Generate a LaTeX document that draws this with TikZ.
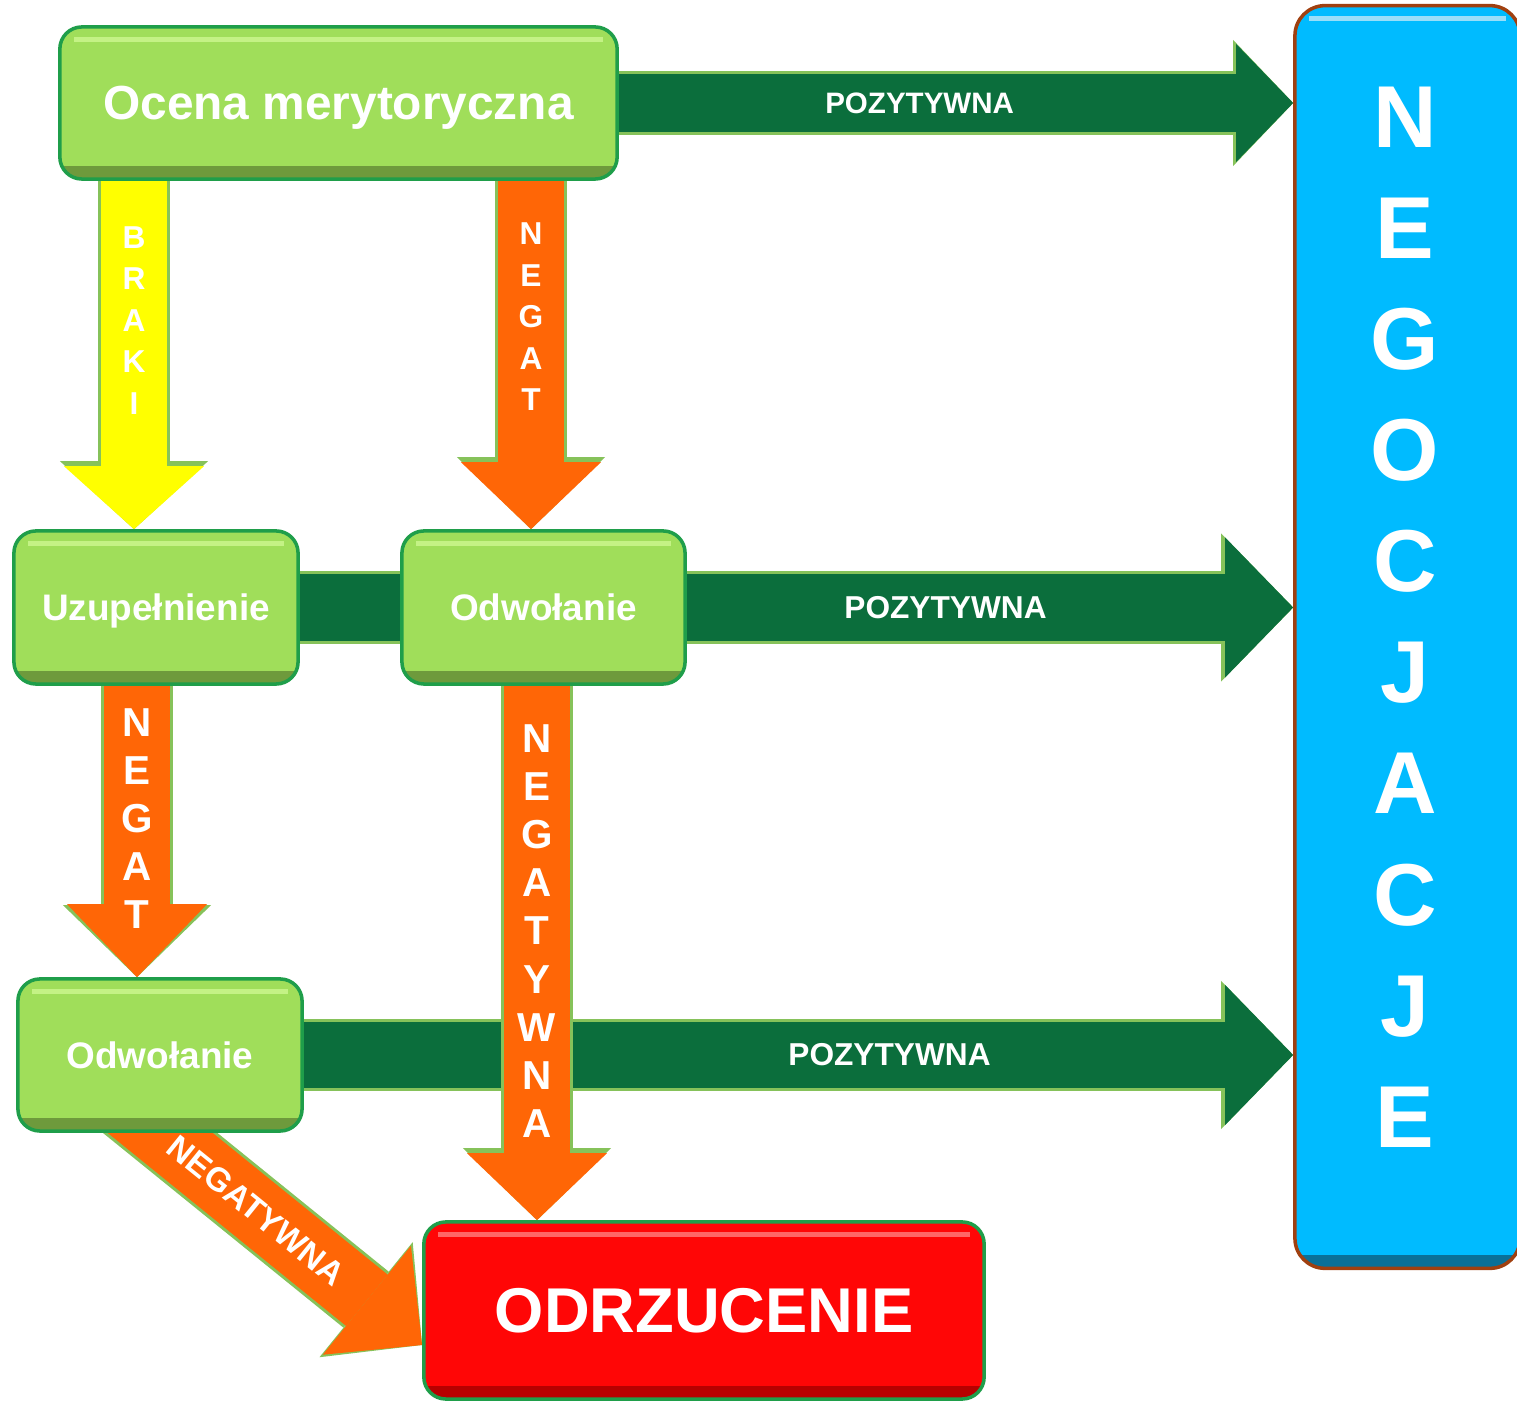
\documentclass[tikz,border=0pt]{standalone}
\usepackage{fontspec}
\setmainfont{Liberation Sans}
\usetikzlibrary{arrows.meta,calc}
\pgfdeclarelayer{background}
\pgfsetlayers{background,main}

\definecolor{boxgreen}{HTML}{A0DE5A}
\definecolor{boxline}{HTML}{1F9E4A}
\definecolor{boxdark}{HTML}{6E9A3C}
\definecolor{boxlight}{HTML}{C4F285}
\definecolor{arrowgreen}{HTML}{0B6E3C}
\definecolor{arrowedge}{HTML}{86C25A}
\definecolor{arroworange}{HTML}{FF6606}
\definecolor{arrowyellow}{HTML}{FFFF00}
\definecolor{boxred}{HTML}{FF0606}
\definecolor{reddark}{HTML}{B80000}
\definecolor{boxblue}{HTML}{00BBFF}
\definecolor{bluedark}{HTML}{0A7098}
\definecolor{blueline}{HTML}{A04010}

\tikzset{
  bevel/.style 2 args={path picture={
      \fill[sharp corners,#1] ([yshift=0.13cm]path picture bounding box.south west) rectangle (path picture bounding box.south east);
      \fill[sharp corners,#2] ([xshift=0.14cm,yshift=-0.1cm]path picture bounding box.north west) rectangle ([xshift=-0.14cm,yshift=-0.15cm]path picture bounding box.north east);}},
  gbox/.style={draw=boxline, line width=1pt, fill=boxgreen, rounded corners=0.22cm, inner sep=0pt, text depth=0pt,
    text=white, font=\bfseries\fontsize{10.5}{12}\selectfont, bevel={boxdark}{boxlight}},
  rbox/.style={draw=boxline, line width=1pt, fill=boxred, rounded corners=0.22cm, inner sep=0pt, text depth=0pt,
    text=white, font=\bfseries\fontsize{18}{20}\selectfont, bevel={reddark}{red!60!white}},
  bbox/.style={draw=blueline, line width=1pt, fill=boxblue, rounded corners=0.3cm, inner sep=0pt,
    bevel={bluedark}{cyan!40!white}},
  negtext/.style={text=white, align=center, inner sep=0pt, font=\bfseries\fontsize{25}{31.6}\selectfont},
  rim/.style n args={3}{preaction={draw=arrowedge, line width=#1, -{Triangle[length=#2,width=#3,line width=0pt]}}},
  fat/.style n args={3}{line width=#1, -{Triangle[length=#2,width=#3,line width=0pt]}},
  greenarrow/.style={rim={0.72cm}{0.72cm}{1.48cm}, fat={0.66cm}{0.68cm}{1.4cm}, draw=arrowgreen},
  orangearrow/.style={rim={0.72cm}{0.72cm}{1.48cm}, fat={0.66cm}{0.67cm}{1.4cm}, draw=arroworange},
  yellowarrow/.style={rim={0.72cm}{0.68cm}{1.48cm}, fat={0.66cm}{0.63cm}{1.4cm}, draw=arrowyellow},
  postext/.style={text=white, inner sep=0pt, font=\bfseries\fontsize{9}{10}\selectfont},
  vtext/.style={text=white, align=center, inner sep=0pt, font=\bfseries\fontsize{9}{11.8}\selectfont},
  vbigtext/.style={text=white, align=center, inner sep=0pt, font=\bfseries\fontsize{11.5}{13.7}\selectfont}
}

\begin{document}
\begin{tikzpicture}[x=0.01cm,y=-0.01cm]
  \useasboundingbox (0,0) rectangle (1517,1401);
  % boxes
  \node[gbox, minimum width=5.57cm, minimum height=1.52cm, font=\bfseries\fontsize{13.6}{16}\selectfont] (ocena) at (338.5,103) {Ocena merytoryczna};
  \node[gbox, minimum width=2.84cm, minimum height=1.53cm] (uzup) at (156,607.5) {Uzupełnienie};
  \node[gbox, minimum width=2.83cm, minimum height=1.53cm] (odw) at (543.5,607.5) {Odwołanie};
  \node[gbox, minimum width=2.84cm, minimum height=1.52cm] (odw2) at (160,1055) {Odwołanie};
  \node[rbox, minimum width=5.6cm, minimum height=1.77cm] (odrz) at (704,1310.5) {ODRZUCENIE};
  \node[bbox, minimum width=2.25cm, minimum height=12.62cm] (neg) at (1407.5,637) {};
  \node[negtext] (negtxt) at (1405,617) {N\\E\\G\\O\\C\\J\\A\\C\\J\\E};

  \coordinate (bx) at (134,0);
  \coordinate (nx) at (531,0);
  \coordinate (lx) at (137,0);
  \coordinate (vx) at (537,0);

  \begin{pgfonlayer}{background}
    % positive answers
    \draw[draw=arrowgreen, rim={0.64cm}{0.6cm}{1.26cm}, fat={0.58cm}{0.57cm}{1.18cm}] (ocena.east) -- (neg.west |- ocena.east)
      node[pos=0.446, postext, font=\bfseries\fontsize{8.4}{10}\selectfont] {POZYTYWNA};
    \draw[greenarrow] (uzup.east) -- (neg.west |- uzup.east)
      node[pos=0.65, postext] {POZYTYWNA};
    \draw[greenarrow] (odw2.east) -- (neg.west |- odw2.east)
      node[pos=0.592, postext] {POZYTYWNA};
    % downward arrows
    \draw[yellowarrow] (ocena.south -| bx) -- (uzup.north -| bx)
      node[pos=0.40, vtext] {B\\R\\A\\K\\I};
    \draw[orangearrow] (ocena.south -| nx) -- (odw.north -| nx)
      node[pos=0.39, vtext] {N\\E\\G\\A\\T};
    \draw[orangearrow, fat={0.66cm}{0.73cm}{1.4cm}] (uzup.south -| lx) -- (odw2.north -| lx)
      node[pos=0.456, vbigtext] {N\\E\\G\\A\\T};
    \draw[orangearrow] (odw.south -| vx) -- (odrz.north -| vx)
      node[pos=0.459, vbigtext] {N\\E\\G\\A\\T\\Y\\W\\N\\A};
    \draw[orangearrow, fat={0.66cm}{0.71cm}{1.4cm}] ($(odw2.south)!-0.25!([yshift=-0.345cm]odrz.west)$) -- ([yshift=-0.345cm]odrz.west)
      node[pos=0.494, sloped, postext, font=\bfseries\fontsize{9.5}{11}\selectfont] {NEGATYWNA};
  \end{pgfonlayer}
\end{tikzpicture}
\end{document}
